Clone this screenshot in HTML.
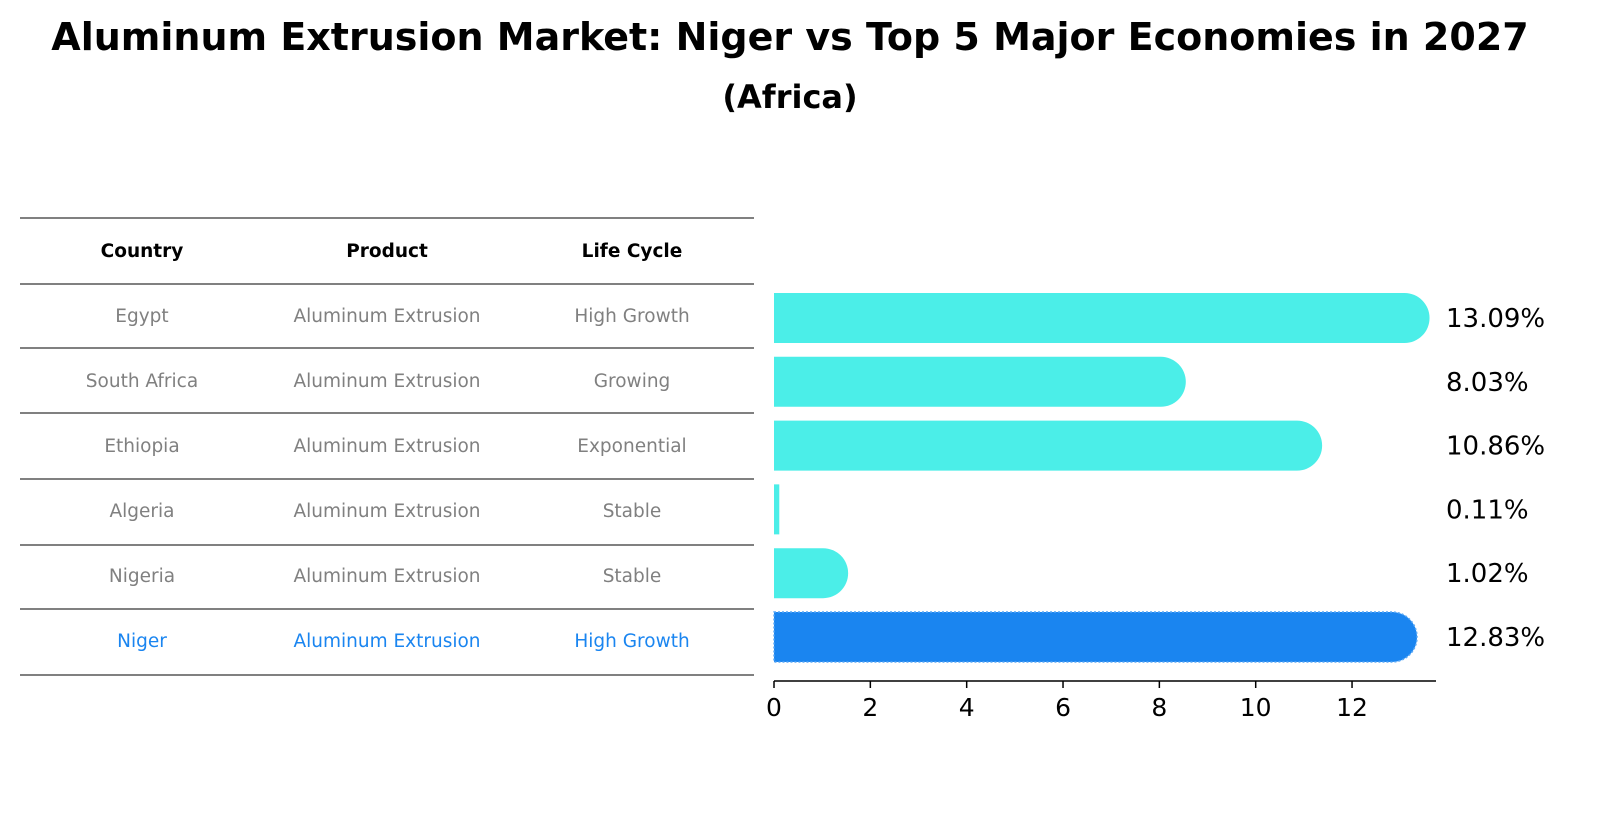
<!DOCTYPE html>
<html><head><meta charset="utf-8"><style>
body{margin:0;background:#fff;font-family:"Liberation Sans","DejaVu Sans",sans-serif}
svg text{font-family:"DejaVu Sans","Liberation Sans",sans-serif}
</style></head><body>
<svg width="1604" height="823" id="c">
<text x="790" y="50" text-anchor="middle" font-size="38" font-weight="bold">Aluminum Extrusion Market: Niger vs Top 5 Major Economies in 2027</text>
<text x="790" y="108" text-anchor="middle" font-size="32" font-weight="bold">(Africa)</text>
<g id="tbl"></g>
<g id="bars"></g>
<g id="axis"></g>
</svg>
<script>
const countries=["Egypt","South Africa","Ethiopia","Algeria","Nigeria","Niger"];
const products=["Aluminum Extrusion","Aluminum Extrusion","Aluminum Extrusion","Aluminum Extrusion","Aluminum Extrusion","Aluminum Extrusion"];
const lifecycles=["High Growth","Growing","Exponential","Stable","Stable","High Growth"];
const values=[13.09,8.03,10.86,0.11,1.02,12.83];
const labels=["13.09%","8.03%","10.86%","0.11%","1.02%","12.83%"];
const ticks=[0,2,4,6,8,10,12];
const NS="http://www.w3.org/2000/svg";
function mk(t,a,p){const e=document.createElementNS(NS,t);for(const k in a)e.setAttribute(k,a[k]);p.appendChild(e);return e;}
const x=v=>774+v*48.17;
const rowY=i=>318+i*63.8;
const tbl=document.getElementById('tbl');
const lines=[218,284,348,413,479,545,609,675];
lines.forEach(y=>{const l=mk('line',{x1:20,x2:754,y1:y,y2:y,stroke:'#000','stroke-width':1},tbl);

});
const cx=[142,387,632];
["Country","Product","Life Cycle"].forEach((h,j)=>{const t=mk('text',{x:cx[j],y:257,'text-anchor':'middle','font-size':18.5,'font-weight':'bold'},tbl);t.textContent=h;

});
const rowsTY=[316,381,446,511,576,641];
countries.forEach((c,i)=>{const col=i==5?'#1a85f0':'#808080';
[c,products[i],lifecycles[i]].forEach((s,j)=>{const t=mk('text',{x:cx[j],y:rowsTY[i]+6,'text-anchor':'middle','font-size':18.5,fill:col},tbl);t.textContent=s;

});});
const bars=document.getElementById('bars');
values.forEach((v,i)=>{const y=rowY(i),h=50,r=25,col=i==5?'#1a85f0':'#4beee8';
let d;const xe=x(v);
if(v>0.5){d=`M${x(0)},${y-h/2}H${xe}A${r},${r} 0 0 1 ${xe},${y+h/2}H${x(0)}Z`;}
else d=`M${x(0)},${y-h/2}H${xe}V${y+h/2}H${x(0)}Z`;
const p=mk('path',{d:d,fill:col},bars);
if(i==5){p.setAttribute('stroke','#5aa8f5');p.setAttribute('stroke-dasharray','2,2');p.setAttribute('stroke-width','1.5');}


const t=mk('text',{x:1446,y:y+9,'font-size':26},bars);t.textContent=labels[i];

});
const ax=document.getElementById('axis');
mk('line',{x1:774,x2:1436,y1:681,y2:681,stroke:'#000','stroke-width':1.5},ax);
ticks.forEach(v=>{mk('line',{x1:x(v),x2:x(v),y1:681,y2:688,stroke:'#000','stroke-width':1.5},ax);
const t=mk('text',{x:x(v),y:716,'text-anchor':'middle','font-size':25},ax);t.textContent=v;

});
</script>
</body></html>
